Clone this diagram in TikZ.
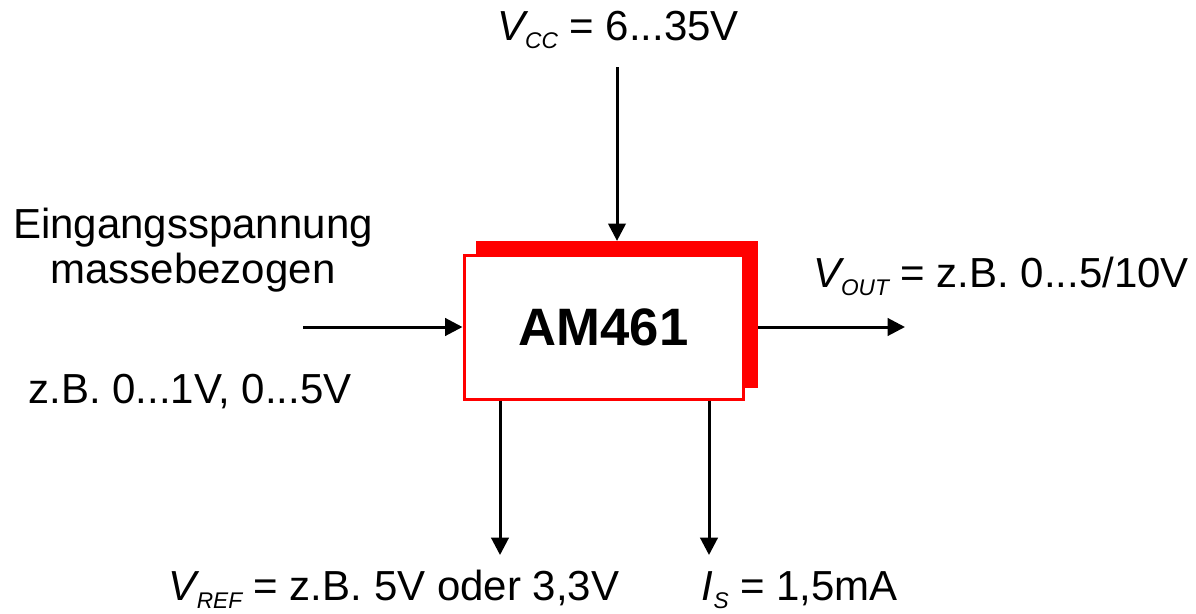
\documentclass[tikz,border=0pt]{standalone}
\usepackage{fontspec}
\setmainfont{Liberation Sans}
\usetikzlibrary{arrows.meta,positioning,calc}
\newcommand{\vsub}[2]{{\itshape #1}\raisebox{-6pt}{\fontsize{17}{19}\selectfont\itshape #2}}
\tikzset{
  chip/.style={draw=red,fill=white,line width=2.25pt,minimum width=209.25pt,minimum height=108pt,font=\fontsize{39.5}{46}\selectfont\bfseries},
  shd/.style={fill=red,minimum width=211.5pt,minimum height=110pt,inner sep=0pt},
  sig/.style={-{Triangle[length=13pt,width=13pt]},line width=2.25pt},
  lbl/.style={anchor=base,inner sep=0pt,font=\fontsize{31.5}{38}\selectfont}
}
\begin{document}
\begin{tikzpicture}[x=0.75pt,y=-0.75pt]
  \useasboundingbox (0,0) rectangle (1196,614);
  % Block with offset shadow
  \node[shd] (back) at (617,314.5) {};
  \node[chip] (am) at (603.5,327) {AM461};

  % Labels
  \node[lbl] (vcc) at (618,40) {\vsub{V}{CC} = 6...35V};
  \node[lbl] (vin1) at (193,238) {Eingangsspannung};
  \node[lbl] (vin2) at (193,283) {massebezogen};
  \node[lbl] (vin3) at (190,403) {z.B. 0...1V, 0...5V};
  \node[lbl] (vout) at (1001,287) {\vsub{V}{OUT} = z.B. 0...5/10V};
  \node[lbl] (vref) at (394,600) {\vsub{V}{REF} = z.B. 5V oder 3,3V};
  \node[lbl] (is) at (800,600) {\vsub{I}{S} = 1,5mA};

  % Free ends of the connectors
  \coordinate (cvcc) at (617,67);
  \coordinate (cin) at (303,327);
  \coordinate (cout) at (905,327);
  \coordinate (cref) at (500,555);
  \coordinate (cis) at (709,555);

  % Connectors
  \draw[sig] (cvcc) -- (cvcc |- back.north);
  \draw[sig] (cin) -- (am.west);
  \draw[sig] (back.east |- am) -- (cout);
  \draw[sig] (am.south -| cref) -- (cref);
  \draw[sig] (am.south -| cis) -- (cis);
\end{tikzpicture}
\end{document}
